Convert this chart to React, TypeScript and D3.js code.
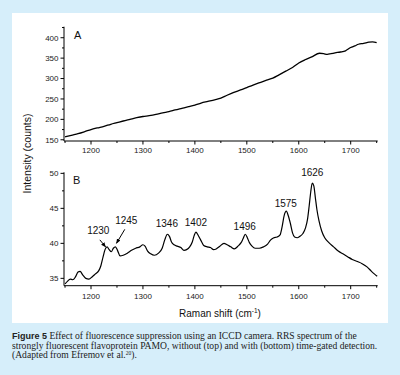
import React from "react";
import * as d3 from "d3";

// Top spectrum (A): without time gating
const shiftA = [1150, 1162, 1175, 1188, 1200, 1212, 1225, 1238, 1250, 1262, 1275, 1288, 1300, 1312, 1325, 1338, 1350, 1362, 1375, 1388, 1400, 1412, 1425, 1438, 1450, 1462, 1475, 1488, 1500, 1512, 1525, 1538, 1550, 1562, 1575, 1588, 1600, 1612, 1625, 1640, 1648, 1655, 1662, 1670, 1680, 1690, 1700, 1708, 1715, 1725, 1735, 1742, 1750];
const countsA = [157, 161, 165, 170, 175, 179, 183, 188, 192, 196, 200, 204, 207, 209, 212, 216, 219, 223, 227, 231, 235, 240, 244, 248, 252, 259, 266, 272, 278, 284, 290, 296, 301, 309, 318, 327, 338, 346, 353, 362, 361, 359, 361, 363, 365, 368, 376, 380, 384, 386, 389, 390, 388];

// Bottom spectrum (B): with time-gated detection
const shiftB = [1150, 1155, 1160, 1165, 1170, 1175, 1179, 1184, 1190, 1196, 1202, 1208, 1215, 1219, 1223, 1227, 1231, 1235, 1239, 1243, 1247, 1251, 1256, 1262, 1270, 1278, 1286, 1294, 1300, 1304, 1309, 1315, 1322, 1330, 1337, 1342, 1347, 1351, 1355, 1360, 1366, 1373, 1379, 1384, 1390, 1395, 1399, 1402, 1406, 1411, 1417, 1424, 1430, 1436, 1441, 1448, 1456, 1462, 1469, 1476, 1483, 1489, 1493, 1497, 1501, 1505, 1510, 1516, 1524, 1532, 1540, 1546, 1552, 1558, 1564, 1568, 1572, 1576, 1580, 1584, 1588, 1592, 1597, 1602, 1608, 1613, 1617, 1620, 1623, 1626, 1629, 1632, 1635, 1639, 1644, 1650, 1658, 1667, 1676, 1685, 1694, 1703, 1713, 1722, 1732, 1740, 1746, 1751];
const countsB = [34.2, 34.6, 34.9, 34.8, 35.2, 35.9, 36.0, 35.5, 35.0, 34.9, 35.2, 35.6, 36.1, 36.8, 38.0, 39.1, 39.5, 39.1, 38.8, 39.3, 39.5, 39.0, 38.2, 38.3, 38.6, 39.0, 39.3, 39.5, 39.8, 39.6, 38.9, 38.5, 38.3, 38.6, 39.3, 40.5, 41.3, 41.0, 40.2, 39.8, 39.6, 39.4, 39.0, 39.1, 39.5, 40.2, 41.2, 41.6, 41.2, 40.5, 39.7, 39.5, 39.4, 39.1, 39.2, 39.6, 40.0, 39.8, 39.5, 39.2, 39.6, 40.1, 40.7, 41.3, 40.8, 40.1, 39.6, 39.3, 39.3, 39.5, 39.9, 40.5, 40.8, 40.9, 41.2, 42.4, 44.0, 44.6, 43.9, 42.8, 41.5, 40.9, 40.8, 41.0, 41.4, 42.2, 43.5, 45.3, 47.3, 48.6, 48.2, 46.5, 44.8, 43.2, 41.8, 40.8, 40.1, 39.5, 38.9, 38.5, 38.1, 37.7, 37.4, 37.1, 36.6, 36.0, 35.6, 35.3];

const xTicks = [1200, 1300, 1400, 1500, 1600, 1700];
const xMinor = [1150, 1250, 1350, 1450, 1550, 1650, 1750];
const yTicksA = [150, 200, 250, 300, 350, 400];
const yMinorA = [175, 225, 275, 325, 375, 425];
const yTicksB = [35, 40, 45, 50];
const yMinorB = [37.5, 42.5, 47.5];

const peakLabels = ["1230", "1245", "1346", "1402", "1496", "1575", "1626"];
const peakLabelX = [1214, 1268, 1346, 1402, 1496, 1575, 1626];
const peakLabelY = [41.4, 42.8, 42.35, 42.55, 41.85, 45.2, 49.6];

const captionLine1 = " Effect of fluorescence suppression using an ICCD camera. RRS spectrum of the";
const captionLine2 = "strongly fluorescent flavoprotein PAMO, without (top) and with (bottom) time-gated detection.";

export default function App() {
  const x = d3.scaleLinear().domain([1148, 1752]).range([64, 377.7]);
  const yA = d3.scaleLinear().domain([147, 427]).range([141, 26.7]);
  const yB = d3.scaleLinear().domain([33.95, 50.15]).range([285.7, 172.3]);

  const lineA = d3
    .line<number>()
    .x((_, i) => x(shiftA[i]))
    .y((d) => yA(d))
    .curve(d3.curveMonotoneX);
  const lineB = d3
    .line<number>()
    .x((_, i) => x(shiftB[i]))
    .y((d) => yB(d))
    .curve(d3.curveMonotoneX);

  const sans = "Liberation Sans, Arial, sans-serif";
  const serif = "Liberation Serif, Times New Roman, serif";

  const axes = (yScale: d3.ScaleLinear<number, number>, yt: number[], ym: number[], yAxis0: number, yAxis1: number, labelOff: number) => {
    const x0 = x.range()[0];
    const x1 = x.range()[1];
    return (
      <g>
        <line x1={x0} x2={x0} y1={yAxis1} y2={yAxis0} stroke="#000" strokeWidth={1} />
        <line x1={x0} x2={x1} y1={yAxis0} y2={yAxis0} stroke="#000" strokeWidth={1} />
        {xTicks.map((t) => (
          <g key={"xt" + t}>
            <line x1={x(t)} x2={x(t)} y1={yAxis0} y2={yAxis0 + 3.5} stroke="#000" />
            <text x={x(t)} y={yAxis0 + labelOff} textAnchor="middle" fontSize={8} fontFamily={sans} fill="#222">
              {t}
            </text>
          </g>
        ))}
        {xMinor.map((t) => (
          <line key={"xm" + t} x1={x(t)} x2={x(t)} y1={yAxis0} y2={yAxis0 + 2} stroke="#000" />
        ))}
        {yt.map((t) => (
          <g key={"yt" + t}>
            <line x1={x0 - 3.5} x2={x0} y1={yScale(t)} y2={yScale(t)} stroke="#000" />
            <text x={x0 - 5.5} y={yScale(t) + 2.8} textAnchor="end" fontSize={8} fontFamily={sans} fill="#222">
              {t}
            </text>
          </g>
        ))}
        {ym.map((t) => (
          <line key={"ym" + t} x1={x0 - 2} x2={x0} y1={yScale(t)} y2={yScale(t)} stroke="#000" />
        ))}
      </g>
    );
  };

  return (
    <svg
      width={400}
      height={375}
      style={{ position: "absolute", left: 0, top: 0, display: "block" }}
    >
      <defs>
        <marker id="arr" viewBox="0 0 10 10" refX={9} refY={5} markerWidth={5} markerHeight={5} orient="auto">
          <path d="M0,1 L10,5 L0,9 z" fill="#000" />
        </marker>
      </defs>
      <rect x={0} y={0} width={400} height={375} fill="#d6eefa" />
      <rect x={12} y={13} width={376} height={310} fill="#ffffff" />

      {axes(yA, yTicksA, yMinorA, 141, 26.7, 12)}
      {axes(yB, yTicksB, yMinorB, 285.7, 172.3, 13.5)}

      <path d={lineA(countsA) || ""} fill="none" stroke="#000" strokeWidth={1.3} />
      <path d={lineB(countsB) || ""} fill="none" stroke="#000" strokeWidth={1.2} />

      <text x={74} y={39} fontSize={11} fontFamily={sans} fill="#111">A</text>
      <text x={73} y={183.5} fontSize={11} fontFamily={sans} fill="#111">B</text>

      {peakLabels.map((p, i) => (
        <text key={p} x={x(peakLabelX[i])} y={yB(peakLabelY[i])} textAnchor="middle" fontSize={10} fontFamily={sans} fill="#111">
          {p}
        </text>
      ))}
      <line x1={x(1217)} y1={yB(40.5)} x2={x(1228)} y2={yB(39.5)} stroke="#000" strokeWidth={1} markerEnd="url(#arr)" />
      <line x1={x(1265)} y1={yB(42.0)} x2={x(1249)} y2={yB(40.0)} stroke="#000" strokeWidth={1} markerEnd="url(#arr)" />

      <text
        transform="translate(30.5,153.5) rotate(-90)"
        textAnchor="middle"
        fontSize={10.5}
        fontFamily={sans}
        fill="#111"
      >
        Intensity (counts)
      </text>
      <text x={220} y={317} textAnchor="middle" fontSize={10} fontFamily={sans} fill="#111">
        Raman shift (cm<tspan dy={-4} fontSize={6.5}>-1</tspan><tspan dy={4}>)</tspan>
      </text>

      <text x={12} y={339} fontSize={9.6} fontFamily={serif} fill="#222">
        <tspan fontFamily={sans} fontWeight="bold" fontSize={9}>Figure 5</tspan>
        <tspan>{captionLine1}</tspan>
      </text>
      <text x={12} y={348.5} fontSize={9.6} fontFamily={serif} fill="#222">
        {captionLine2}
      </text>
      <text x={12} y={358} fontSize={9.6} fontFamily={serif} fill="#222">
        (Adapted from Efremov et al.<tspan dy={-3.5} fontSize={5.5}>20</tspan>
        <tspan dy={3.5}>).</tspan>
      </text>
    </svg>
  );
}
